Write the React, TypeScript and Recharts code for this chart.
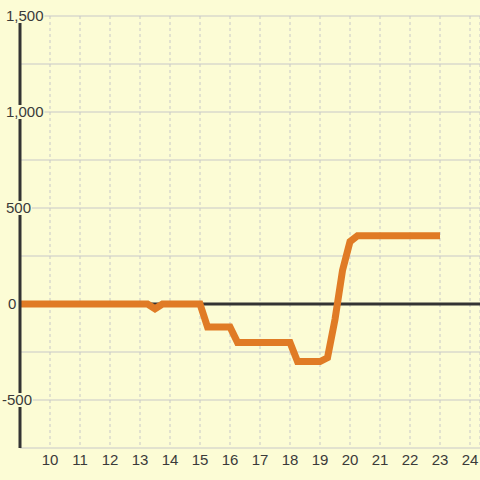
import React from 'react';
import { LineChart, Line, XAxis, YAxis, CartesianGrid, ReferenceLine } from 'recharts';

const hours = [9, 13.25, 13.5, 13.75, 15, 15.25, 16, 16.25, 18, 18.25, 19, 19.25, 19.5, 19.75, 20, 20.25, 23];
const values = [0, 0, -25, 0, 0, -120, -120, -200, -200, -300, -300, -280, -80, 175, 325, 355, 355];
const xTicks = [10, 11, 12, 13, 14, 15, 16, 17, 18, 19, 20, 21, 22, 23, 24];
const yTicks = [-750, -500, -250, 0, 250, 500, 750, 1000, 1250, 1500];

const data = hours.map((h, i) => ({ hour: h, value: values[i] }));

const BG = '#fcfcd5';

const YTick: React.FC<any> = ({ y, payload }) => {
    const v = payload.value;
    if (v % 500 !== 0) return null;
    const label = v.toLocaleString('en-US');
    let w = 0;
    for (const c of label) w += c === ',' ? 4.2 : c === '-' ? 5 : 8.3;
    const x = v < 0 ? 2 : v === 0 ? 8 : 6;
    return (
        <g>
            <rect x={x - 1} y={y - 7} width={w + 2} height={14} fill={BG} />
            <text x={x} y={y} dy="0.35em" textAnchor="start" fill="#3a3a3a" fontSize={15}>{label}</text>
        </g>
    );
};

export default function App() {
    return (
        <div style={{ position: 'fixed', left: 0, top: 0, width: 480, height: 480, background: BG, fontFamily: '"Liberation Sans", Arial, sans-serif' }}>
            <LineChart width={480} height={480} data={data} margin={{ top: 16, right: 0, bottom: 0, left: 0 }}>
                <CartesianGrid vertical={false} stroke="#c8c8c8" />
                <CartesianGrid horizontal={false} stroke="#c8c8c8" strokeDasharray="3 3" />
                <XAxis
                    dataKey="hour"
                    type="number"
                    domain={[9, 24.333]}
                    ticks={xTicks}
                    allowDataOverflow
                    axisLine={false}
                    tickLine={false}
                    height={32}
                    tick={{ fill: '#3a3a3a', fontSize: 15, dy: -2 }}
                />
                <YAxis
                    type="number"
                    domain={[-750, 1500]}
                    ticks={yTicks}
                    width={20}
                    axisLine={{ stroke: '#333', strokeWidth: 3 }}
                    tickLine={false}
                    tick={<YTick />}
                />
                <ReferenceLine y={0} stroke="#333" strokeWidth={3} />
                <Line
                    type="linear"
                    dataKey="value"
                    stroke="#e07b25"
                    strokeWidth={7}
                    dot={false}
                    activeDot={false}
                    isAnimationActive={false}
                />
            </LineChart>
        </div>
    );
}
